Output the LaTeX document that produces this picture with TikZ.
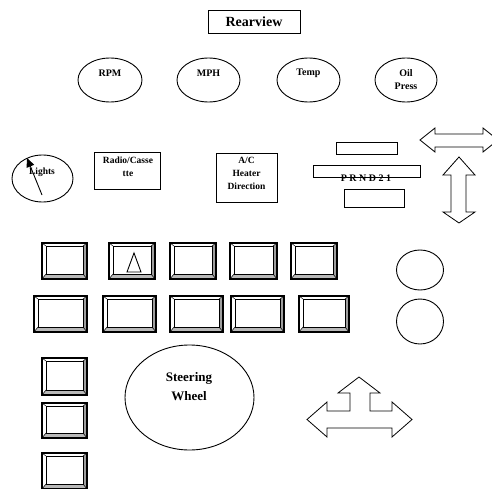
\documentclass[tikz,border=0pt]{standalone}
\usepackage{fontspec}
\setmainfont{Liberation Serif}
\usetikzlibrary{arrows.meta,shapes.geometric}
\tikzset{
  boxshape/.style={draw, line width=0.9pt, rectangle, inner sep=0pt},
  gauge/.style={draw, line width=0.9pt, ellipse, inner sep=0pt},
  lbl/.style={font=\bfseries\fontsize{9.5}{13}\selectfont, align=center, inner sep=0pt},
  glbl/.style={lbl, font=\bfseries\fontsize{10}{13}\selectfont},
  bigarrow/.style={draw, line width=0.8pt, fill=white, line join=miter},
  bevlight/.style={fill=white},
  bevbottom/.style={fill=gray!55},
  bevright/.style={fill=gray!75},
}
\newcommand\bevbtn[5]{%
  \coordinate (#1) at ({(#2+#4)/2},{(#3+#5)/2});
  \fill[bevlight] (#2,#3) rectangle (#4,#5);
  \fill[bevbottom] (#2,#5) -- ({#2+4},{#5-5}) -- ({#4-4},{#5-5}) -- (#4,#5) -- cycle;
  \fill[bevright] (#4,#3) -- ({#4-4},{#3+3}) -- ({#4-4},{#5-5}) -- (#4,#5) -- cycle;
  \draw[line width=0.5pt] (#2,#3) -- ({#2+4},{#3+3}) (#4,#3) -- ({#4-4},{#3+3})
     (#2,#5) -- ({#2+4},{#5-5}) (#4,#5) -- ({#4-4},{#5-5});
  \draw[line width=0.9pt] ({#2+4},{#3+3}) rectangle ({#4-4},{#5-5});
  \draw[line width=1.7pt] (#2,#3) rectangle (#4,#5);
}
\begin{document}
\begin{tikzpicture}[x=1pt,y=-1pt]
\useasboundingbox (0,0) rectangle (492,489);
\clip (0,0) rectangle (492,489);

% Rearview
\node[boxshape, minimum width=92pt, minimum height=23pt] (rear) at (254,21.5) {};
\node[lbl, font=\bfseries\fontsize{14}{16}\selectfont] (reartxt) at (254,22) {Rearview};

% gauges
\node[gauge, minimum width=64pt, minimum height=44pt] (rpm) at (110,80) {};
\node[glbl] (rpmtxt) at (110,73) {RPM};
\node[gauge, minimum width=63pt, minimum height=44pt] (mph) at (208.5,80) {};
\node[glbl] (mphtxt) at (208.5,73) {MPH};
\node[gauge, minimum width=63pt, minimum height=44pt] (temp) at (308.5,80) {};
\node[glbl] (temptxt) at (308.5,73) {Temp};
\node[gauge, minimum width=62pt, minimum height=44pt] (oil) at (406,80) {};
\node[glbl] (oiltxt) at (406,80) {Oil\\Press};

% Lights
\node[gauge, minimum width=61pt, minimum height=47pt] (lights) at (42.5,178.5) {};
\node[lbl] (lightstxt) at (42,172) {Lights};
\coordinate (ltail) at (42,195);
\coordinate (lhead) at (27,158);
\draw[line width=0.9pt, -{Triangle[length=9pt,width=8pt]}] (ltail) -- (lhead);

% Radio
\node[boxshape, minimum width=66pt, minimum height=37pt] (radio) at (127,171) {};
\node[lbl, anchor=north] (radiotxt) at (128,157) {Radio/Casse\\tte};

% A/C
\node[boxshape, minimum width=61pt, minimum height=49pt] (ac) at (246.5,177.5) {};
\node[lbl, anchor=north] (actxt) at (246.5,157) {A/C\\Heater\\Direction};

% PRND
\node[boxshape, minimum width=61pt, minimum height=12pt] (prtop) at (366.5,148) {};
\node[boxshape, minimum width=107pt, minimum height=12pt] (prmid) at (366.5,171) {};
\node[boxshape, minimum width=60pt, minimum height=18pt] (prbot) at (374,198) {};
\node[lbl, font=\bfseries\fontsize{10}{12}\selectfont] (prtxt) at (366,178) {P R N D 2 1};

% horizontal double arrow (top right)
\draw[bigarrow] (420,140) -- (435,128) -- (435,134) -- (483,134) -- (483,128) -- (498,140)
  -- (483,152) -- (483,147) -- (435,147) -- (435,152) -- cycle;
% vertical double arrow
\draw[bigarrow] (459,157) -- (475,175) -- (466,175) -- (466,212) -- (475,212) -- (459,223)
  -- (443,212) -- (451,212) -- (451,175) -- (443,175) -- cycle;

% button row 1
\bevbtn{b11}{42}{243}{87}{279}
\bevbtn{b12}{109}{243}{155}{279}
\bevbtn{b13}{170}{243}{216}{279}
\bevbtn{b14}{230}{243}{277}{279}
\bevbtn{b15}{291}{243}{337}{279}
\coordinate (tri1) at (134,253);
\coordinate (tri2) at (141,272);
\coordinate (tri3) at (127,272);
\draw[line width=0.9pt, line join=miter] (tri1) -- (tri2) -- (tri3) -- cycle;

% button row 2
\bevbtn{b21}{34}{296}{87}{332}
\bevbtn{b22}{103}{296}{156}{332}
\bevbtn{b23}{170}{296}{223}{332}
\bevbtn{b24}{231}{296}{284}{332}
\bevbtn{b25}{299}{296}{349}{332}

% column buttons
\bevbtn{c1}{42}{358}{87}{395}
\bevbtn{c2}{42}{403}{87}{438}
\bevbtn{c3}{42}{453}{87}{489}

% right circles
\node[gauge, minimum width=47pt, minimum height=40pt] (rc1) at (420,270) {};
\node[gauge, minimum width=47pt, minimum height=45pt] (rc2) at (420,321.5) {};

% steering wheel
\node[gauge, minimum width=129pt, minimum height=105pt] (steer) at (189.5,397.5) {};
\node[lbl, font=\bfseries\fontsize{13}{19}\selectfont, anchor=north] (steertxt) at (189,372) {Steering\\Wheel};

% three-way arrow
\draw[bigarrow] (359,377) -- (380,393) -- (370,393) -- (370,411) -- (392,411) -- (392,402)
  -- (412,419.5) -- (392,437) -- (392,428) -- (327,428) -- (327,437) -- (307,419.5)
  -- (327,402) -- (327,411) -- (350,411) -- (350,393) -- (338,393) -- cycle;
\end{tikzpicture}
\end{document}
